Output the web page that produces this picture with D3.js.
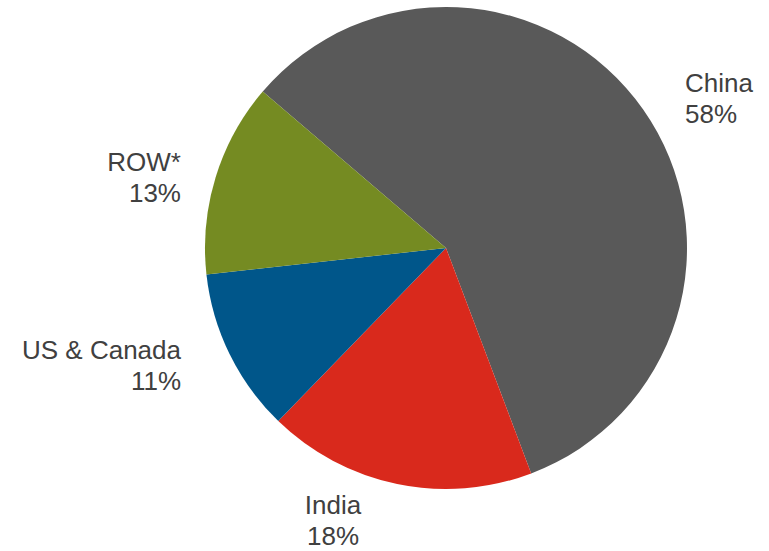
<!DOCTYPE html>
<html>
<head>
<meta charset="utf-8">
<script src="https://cdn.jsdelivr.net/npm/d3@7"></script>
<style>
  html, body { margin: 0; padding: 0; background: #fff; }
  text { font-family: "Liberation Sans", Arial, sans-serif; fill: #404040; }
</style>
</head>
<body>
<svg id="chart" width="769" height="551"></svg>
<script>
// Regional shares, clockwise from the top-left boundary
const regions = ["China", "India", "US & Canada", "ROW*"];
const shares = [58, 18, 11, 13];
const colors = ["#595959", "#d9291c", "#00568a", "#758b22"];

const width = 769, height = 551;
const cx = 446, cy = 248, radius = 241;
const startDeg = -49.5;

const svg = d3.select("#chart");
const g = svg.append("g").attr("transform", `translate(${cx},${cy})`);

const pie = d3.pie()
  .sort(null)
  .value(d => d.value)
  .startAngle(startDeg * Math.PI / 180)
  .endAngle((startDeg + 360) * Math.PI / 180);

const data = regions.map((r, i) => ({ region: r, value: shares[i], color: colors[i] }));
const arcs = pie(data);
const arc = d3.arc().innerRadius(0).outerRadius(radius);

g.selectAll("path")
  .data(arcs)
  .join("path")
  .attr("d", arc)
  .attr("fill", d => d.data.color);

// Label placement per slice
const labelPos = {
  "China": { x: 685, y: 92, anchor: "start" },
  "India": { x: 333, y: 514, anchor: "middle" },
  "US & Canada": { x: 181, y: 359, anchor: "end" },
  "ROW*": { x: 181, y: 171, anchor: "end" }
};
const lineGap = 31;

arcs.forEach(a => {
  const p = labelPos[a.data.region];
  const t = svg.append("text")
    .attr("text-anchor", p.anchor)
    .attr("font-size", 26);
  t.append("tspan").attr("x", p.x).attr("y", p.y).text(a.data.region);
  t.append("tspan").attr("x", p.x).attr("y", p.y + lineGap).text(a.data.value + "%");
});
</script>
</body>
</html>
